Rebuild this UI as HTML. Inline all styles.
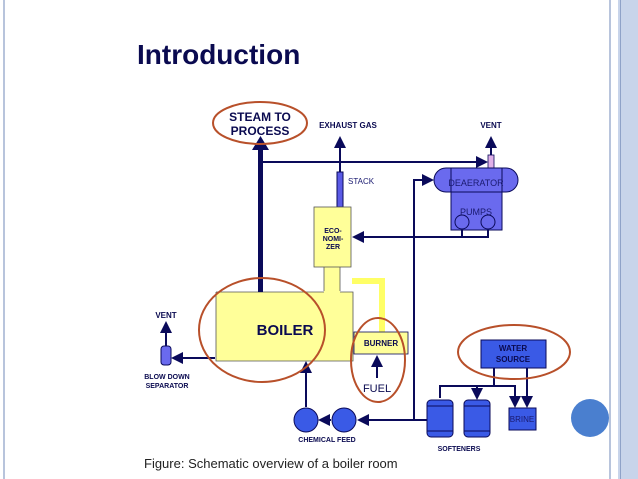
<!DOCTYPE html>
<html><head><style>body{margin:0;background:#fff}svg{display:block}text{font-family:"Liberation Sans",sans-serif}</style></head><body>
<svg width="638" height="479" viewBox="0 0 638 479">
<defs><marker id="a" markerWidth="6" markerHeight="6" refX="5" refY="3" orient="auto"><path d="M0,0L6,3L0,6z" fill="#0a0a5a"/></marker></defs>
<rect x="3" y="0" width="2" height="479" fill="#b8c4dc"/>
<rect x="609" y="0" width="2" height="479" fill="#b8c4dc"/>
<rect x="618" y="0" width="20" height="479" fill="#c8d4ea"/>
<rect x="620" y="0" width="1" height="479" fill="#8fa2c8"/>
<text x="137" y="64" font-size="28" font-weight="bold" fill="#0a0a50">Introduction</text>
<g stroke="#0a0a5a" stroke-width="2" fill="none">
<line x1="260" y1="162" x2="486" y2="162" marker-end="url(#a)"/>
<line x1="491" y1="155" x2="491" y2="138" marker-end="url(#a)"/>
<line x1="340" y1="172" x2="340" y2="138" marker-end="url(#a)"/>
<polyline points="462,229 462,237 488,237 488,229"/>
<line x1="462" y1="237" x2="354" y2="237" marker-end="url(#a)"/>
<polyline points="414,420 414,180 432,180" marker-end="url(#a)"/>
<line x1="428" y1="420" x2="359" y2="420" marker-end="url(#a)"/>
<line x1="331" y1="420" x2="320" y2="420" marker-end="url(#a)"/>
<line x1="306" y1="407" x2="306" y2="363" marker-end="url(#a)"/>
<line x1="215" y1="358" x2="173" y2="358" marker-end="url(#a)"/>
<line x1="166" y1="346" x2="166" y2="323" marker-end="url(#a)"/>
<line x1="377" y1="378" x2="377" y2="357" marker-end="url(#a)"/>
<line x1="494" y1="368" x2="494" y2="386"/>
<polyline points="440,398 440,386 515,386 515,406" marker-end="url(#a)"/>
<line x1="477" y1="386" x2="477" y2="398" marker-end="url(#a)"/>
<line x1="527" y1="368" x2="527" y2="406" marker-end="url(#a)"/>
</g>
<rect x="258" y="148" width="5" height="142" fill="#0a0a5a"/>
<path d="M252,150L260.5,136L269,150z" fill="#0a0a5a"/>
<rect x="337" y="172" width="6" height="35" fill="#5a5ae6" stroke="#0a0a5a"/>
<rect x="488" y="155" width="6" height="13" fill="#e0b0e8" stroke="#0a0a5a" stroke-width="0.8"/>
<rect x="434" y="168" width="84" height="24" rx="12" fill="#6a6aee" stroke="#0a0a5a"/>
<rect x="451" y="168" width="51" height="24" fill="#6a6aee" stroke="#0a0a5a"/>
<rect x="451" y="192" width="51" height="38" fill="#6a6aee" stroke="#0a0a5a"/>
<circle cx="462" cy="222" r="7" fill="#6a6aee" stroke="#0a0a5a"/>
<circle cx="488" cy="222" r="7" fill="#6a6aee" stroke="#0a0a5a"/>
<text x="476" y="186" font-size="9" text-anchor="middle" fill="#1a1a70">DEAERATOR</text>
<text x="476" y="215" font-size="9" text-anchor="middle" fill="#1a1a70">PUMPS</text>
<path d="M352,281H382V336" stroke="#ffff66" stroke-width="6" fill="none"/>
<rect x="324" y="266" width="16" height="28" fill="#ffff99"/>
<line x1="324" y1="266" x2="324" y2="291" stroke="#555" stroke-width="0.8"/>
<line x1="340" y1="266" x2="340" y2="291" stroke="#555" stroke-width="0.8"/>
<rect x="314" y="207" width="37" height="60" fill="#ffff99" stroke="#555" stroke-width="0.8"/>
<text font-size="7" font-weight="bold" fill="#0a0a50" text-anchor="middle"><tspan x="333" y="233">ECO-</tspan><tspan x="333" y="241">NOMI-</tspan><tspan x="333" y="249">ZER</tspan></text>
<path d="M216,292H324M340,292H353V361H216V292" fill="#ffff99" stroke="#555" stroke-width="0.8"/>
<rect x="216.5" y="292.5" width="136" height="68" fill="#ffff99"/>
<rect x="258" y="286" width="5" height="6" fill="#0a0a5a"/>
<text x="285" y="335" font-size="15" font-weight="bold" fill="#0a0a50" text-anchor="middle">BOILER</text>
<rect x="354" y="332" width="54" height="22" fill="#ffff99" stroke="#0a0a5a" stroke-width="0.8"/>
<text x="381" y="346" font-size="8" font-weight="bold" fill="#0a0a50" text-anchor="middle">BURNER</text>
<text x="377" y="392" font-size="11" fill="#0a0a50" text-anchor="middle">FUEL</text>
<rect x="161" y="346" width="10" height="19" rx="3" fill="#6a6aee" stroke="#0a0a5a"/>
<text x="166" y="318" font-size="8" font-weight="bold" fill="#0a0a50" text-anchor="middle">VENT</text>
<text font-size="7" font-weight="bold" fill="#0a0a50" text-anchor="middle"><tspan x="167" y="379">BLOW DOWN</tspan><tspan x="167" y="388">SEPARATOR</tspan></text>
<circle cx="306" cy="420" r="12" fill="#3a5ae6" stroke="#0a0a5a"/>
<circle cx="344" cy="420" r="12" fill="#3a5ae6" stroke="#0a0a5a"/>
<text x="327" y="442" font-size="7" font-weight="bold" fill="#0a0a50" text-anchor="middle">CHEMICAL FEED</text>
<rect x="427" y="400" width="26" height="37" rx="4" fill="#3a5ae6" stroke="#0a0a5a"/>
<rect x="464" y="400" width="26" height="37" rx="4" fill="#3a5ae6" stroke="#0a0a5a"/>
<line x1="427" y1="406" x2="453" y2="406" stroke="#0a0a5a"/><line x1="427" y1="431" x2="453" y2="431" stroke="#0a0a5a"/>
<line x1="464" y1="406" x2="490" y2="406" stroke="#0a0a5a"/><line x1="464" y1="431" x2="490" y2="431" stroke="#0a0a5a"/>
<text x="459" y="451" font-size="7" font-weight="bold" fill="#0a0a50" text-anchor="middle">SOFTENERS</text>
<rect x="481" y="340" width="65" height="28" fill="#3a5ae6" stroke="#0a0a5a"/>
<text font-size="8" font-weight="bold" fill="#0a0a50" text-anchor="middle"><tspan x="513" y="351">WATER</tspan><tspan x="513" y="362">SOURCE</tspan></text>
<rect x="509" y="408" width="27" height="22" fill="#3a5ae6" stroke="#0a0a5a"/>
<text x="522" y="422" font-size="8" fill="#1a1a70" text-anchor="middle">BRINE</text>
<text font-size="12" font-weight="bold" fill="#0a0a50" text-anchor="middle"><tspan x="260" y="121">STEAM TO</tspan><tspan x="260" y="135">PROCESS</tspan></text>
<text x="348" y="128" font-size="8" font-weight="bold" fill="#0a0a50" text-anchor="middle">EXHAUST GAS</text>
<text x="491" y="128" font-size="8" font-weight="bold" fill="#0a0a50" text-anchor="middle">VENT</text>
<text x="348" y="184" font-size="8" fill="#1a1a70">STACK</text>
<g fill="none" stroke="#b8502a" stroke-width="2">
<ellipse cx="260" cy="123" rx="47" ry="21"/>
<ellipse cx="262" cy="330" rx="63" ry="52"/>
<ellipse cx="378" cy="360" rx="27" ry="42"/>
<ellipse cx="514" cy="352" rx="56" ry="27"/>
</g>
<circle cx="590" cy="418" r="19" fill="#4a7fcf"/>
<text x="144" y="468" font-size="13" fill="#222">Figure: Schematic overview of a boiler room</text>
</svg>
</body></html>
